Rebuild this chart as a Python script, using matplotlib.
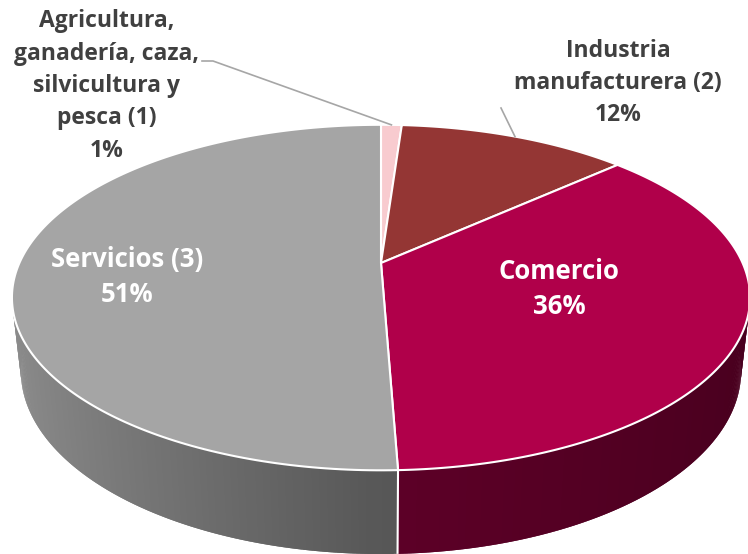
import numpy as np
import matplotlib.pyplot as plt
from matplotlib.patches import Polygon

# data (share of establishments by sector, %)
sectors = [
    "Agricultura,\nganadería, caza,\nsilvicultura y\npesca (1)",
    "Industria\nmanufacturera (2)",
    "Comercio",
    "Servicios (3)",
]
shares = [1.1, 12.2, 36.1, 50.6]
colors = ["#F8CBCF", "#943634", "#B0004A", "#A5A5A5"]

# 3d view settings
ELEV = np.radians(27.3)
FOCAL = 5 * np.cos(ELEV)
DEPTH = 0.23
SCALE = 361.6
CX, CY = 381, 263

plt.rcParams["font.family"] = ["Open Sans", "DejaVu Sans"]


def project(r, phi, z):
    x = r * np.cos(phi)
    y = r * np.sin(phi)
    vy = y * np.sin(ELEV) + z * np.cos(ELEV)
    d = y * np.cos(ELEV) - z * np.sin(ELEV)
    g = FOCAL / (FOCAL + d)
    return CX + SCALE * x * g, CY - SCALE * vy * g


def frac_to_phi(f):
    # start at 12 o'clock, go clockwise
    return np.pi / 2 - 2 * np.pi * f


def shade(hex_color, phi):
    rgb = np.array([int(hex_color[i:i + 2], 16) for i in (1, 3, 5)]) / 255
    c = np.cos(phi)
    k = 0.53 - (0.33 * c if c < 0 else 0.12 * c)
    return tuple(np.clip(rgb * k, 0, 1))


bounds = np.concatenate([[0], np.cumsum(shares) / sum(shares)])

fig = plt.figure(figsize=(7.48, 5.54), dpi=100)
ax = fig.add_axes([0, 0, 1, 1])
ax.set_xlim(0, 748)
ax.set_ylim(554, 0)
ax.axis("off")

# side wall, drawn back to front; strips overlap a little to hide seams
step = 1 / 720
strips = []
for i, col in enumerate(colors):
    fr = np.arange(bounds[i], bounds[i + 1], step)
    for a in fr:
        b = min(a + 2 * step, bounds[i + 1])
        pa, pb = frac_to_phi(a), frac_to_phi(b)
        mid = frac_to_phi(a + step / 2)
        if np.sin(mid) > 0.05:
            continue
        xa0, ya0 = project(1, pa, 0)
        xb0, yb0 = project(1, pb, 0)
        xa1, ya1 = project(1, pa, -DEPTH)
        xb1, yb1 = project(1, pb, -DEPTH)
        strips.append((np.sin(mid), [(xa0, ya0), (xb0, yb0), (xb1, yb1), (xa1, ya1)],
                       shade(col, mid)))
strips.sort(key=lambda s: -s[0])
for _, pts, c in strips:
    ax.add_patch(Polygon(pts, closed=True, facecolor=c, edgecolor="none", lw=0))

# white seams on the visible wall
for f in bounds[1:-1]:
    p = frac_to_phi(f)
    if np.sin(p) < -0.25:
        x0, y0 = project(1, p, 0)
        x1, y1 = project(1, p, -DEPTH)
        ax.plot([x0, x1], [y0, y1], color="white", lw=1.5, solid_capstyle="butt")

# top face
apex = project(0, 0, 0)
for i, col in enumerate(colors):
    ph = frac_to_phi(np.linspace(bounds[i], bounds[i + 1], 200))
    xs, ys = project(1, ph, 0)
    pts = [apex] + list(zip(xs, ys))
    ax.add_patch(Polygon(pts, closed=True, facecolor=col, edgecolor="white",
                         lw=1.5, joinstyle="round"))

# labels
outer = dict(ha="center", va="center", fontsize=16.5, fontweight="bold",
             linespacing=1.47, color="#404040")
inner = dict(ha="center", va="center", fontsize=18.5, fontweight="bold",
             linespacing=1.4, color="white")
pct = [f"{round(v)}%" for v in shares]
ax.text(107, 86, f"{sectors[0]}\n{pct[0]}", **outer)
ax.text(618, 83, f"{sectors[1]}\n{pct[1]}", **outer)
ax.text(559, 289, f"{sectors[2]}\n{pct[2]}", **inner)
ax.text(127, 277, f"{sectors[3]}\n{pct[3]}", **inner)

# leader lines to slice rims
mid0 = frac_to_phi((bounds[0] + bounds[1]) / 2)
ex, ey = project(1, mid0, 0)
ax.plot([202, 213, ex], [61, 61, ey], color="#A6A6A6", lw=1.2)
mid1 = frac_to_phi((bounds[1] + bounds[2]) / 2)
ex, ey = project(1, mid1, 0)
ax.plot([501, ex], [108, ey], color="#A6A6A6", lw=1.2)

fig.savefig("out.png", dpi=100)
